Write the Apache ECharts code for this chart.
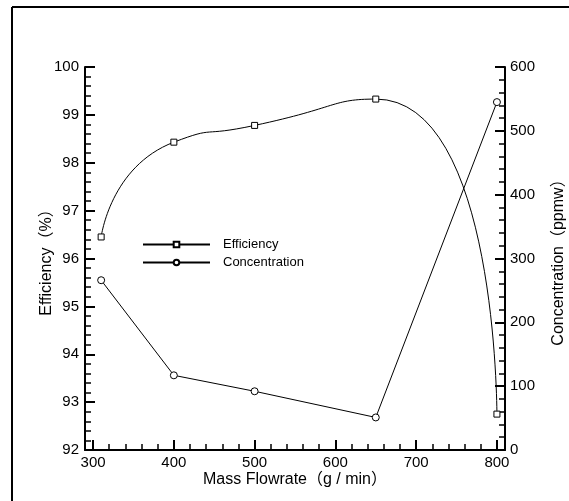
<!DOCTYPE html>
<html>
<head>
<meta charset="utf-8">
<script src="https://cdn.jsdelivr.net/npm/echarts@6/dist/echarts.min.js"></script>
<style>
  html, body { margin: 0; padding: 0; background: #fff; }
  #main { width: 569px; height: 501px; }
</style>
</head>
<body>
<div id="main"></div>
<script>
  // values
  var massFlow = [310, 400, 500, 650, 800];
  var efficiency = [96.45, 98.43, 98.78, 99.33, 92.75];
  var concentration = [266, 117, 92, 51, 545];

  var xMajorTicks = [300, 400, 500, 600, 700, 800];
  var xMinorTicks = [];
  for (var v = 300; v < 800; v += 20) {
    if (v % 100 !== 0) xMinorTicks.push(v);
  }

  var FONT = "'Liberation Sans', Arial, 'Noto Sans CJK SC', sans-serif";

  var effData = massFlow.map(function (x, i) { return [x, efficiency[i]]; });
  var concData = massFlow.map(function (x, i) { return [x, concentration[i]]; });

  var myChart = echarts.init(document.getElementById('main'));
  var option = {
    backgroundColor: '#fff',
    animation: false,
    textStyle: { fontFamily: FONT, color: '#000' },
    grid: { left: 85, right: 64, top: 67, bottom: 51, outerBoundsMode: 'none', containLabel: false },
    legend: {
      orient: 'vertical',
      left: 137,
      top: 233,
      itemWidth: 67,
      itemHeight: 7,
      itemGap: 5,
      data: ['Efficiency', 'Concentration'],
      textStyle: { fontFamily: FONT, fontSize: 13, color: '#000', padding: [0, 0, 0, 8] }
    },
    xAxis: [
      {
        type: 'value',
        min: 290,
        max: 810,
        name: 'Mass Flowrate（g / min）',
        nameLocation: 'middle',
        nameGap: 22,
        nameMoveOverlap: false,
        nameTextStyle: { fontFamily: FONT, fontSize: 16, color: '#000' },
        axisLine: { lineStyle: { color: '#000', width: 2 } },
        axisTick: { inside: true, length: 10, customValues: xMajorTicks, lineStyle: { color: '#000', width: 2 } },
        axisLabel: { customValues: xMajorTicks, margin: 5, fontFamily: FONT, fontSize: 15, color: '#000' },
        splitLine: { show: false }
      },
      {
        type: 'value',
        min: 290,
        max: 810,
        position: 'bottom',
        axisLine: { show: false },
        axisTick: { inside: true, length: 6, customValues: xMinorTicks, lineStyle: { color: '#000', width: 1.5 } },
        axisLabel: { show: false },
        splitLine: { show: false }
      }
    ],
    yAxis: [
      {
        type: 'value',
        min: 92,
        max: 100,
        interval: 1,
        position: 'left',
        name: 'Efficiency（%）',
        nameLocation: 'middle',
        nameGap: 30,
        nameMoveOverlap: false,
        nameTextStyle: { fontFamily: FONT, fontSize: 16, color: '#000' },
        axisLine: { show: true, lineStyle: { color: '#000', width: 2 } },
        axisTick: { show: true, inside: true, length: 10, lineStyle: { color: '#000', width: 2 } },
        minorTick: { show: true, splitNumber: 5, length: 6, lineStyle: { color: '#000', width: 1.5 } },
        axisLabel: { margin: 6, fontFamily: FONT, fontSize: 15, color: '#000' },
        splitLine: { show: false }
      },
      {
        type: 'value',
        min: 0,
        max: 600,
        interval: 100,
        position: 'right',
        name: 'Concentration（ppmw）',
        nameLocation: 'middle',
        nameGap: 46,
        nameMoveOverlap: false,
        nameTextStyle: { fontFamily: FONT, fontSize: 16, color: '#000' },
        axisLine: { show: true, lineStyle: { color: '#000', width: 2 } },
        axisTick: { show: true, inside: true, length: 10, lineStyle: { color: '#000', width: 2 } },
        minorTick: { show: true, splitNumber: 5, length: 6, lineStyle: { color: '#000', width: 1.5 } },
        axisLabel: { margin: 5, fontFamily: FONT, fontSize: 15, color: '#000' },
        splitLine: { show: false }
      }
    ],
    graphic: [
      { type: 'line', shape: { x1: 12, y1: 7, x2: 569, y2: 7 }, style: { stroke: '#000', lineWidth: 2 } },
      { type: 'line', shape: { x1: 12, y1: 7, x2: 12, y2: 501 }, style: { stroke: '#000', lineWidth: 2 } }
    ],
    series: [
      {
        name: 'Efficiency',
        type: 'line',
        xAxisIndex: 0,
        yAxisIndex: 0,
        data: effData,
        smooth: 0.7,
        symbol: 'rect',
        symbolSize: 6,
        lineStyle: { color: '#000', width: 1 },
        itemStyle: { color: '#fff', borderColor: '#000', borderWidth: 1 }
      },
      {
        name: 'Concentration',
        type: 'line',
        xAxisIndex: 0,
        yAxisIndex: 1,
        data: concData,
        symbol: 'circle',
        symbolSize: 7,
        lineStyle: { color: '#000', width: 1 },
        itemStyle: { color: '#fff', borderColor: '#000', borderWidth: 1 }
      }
    ]
  };
  myChart.setOption(option);
</script>
</body>
</html>
